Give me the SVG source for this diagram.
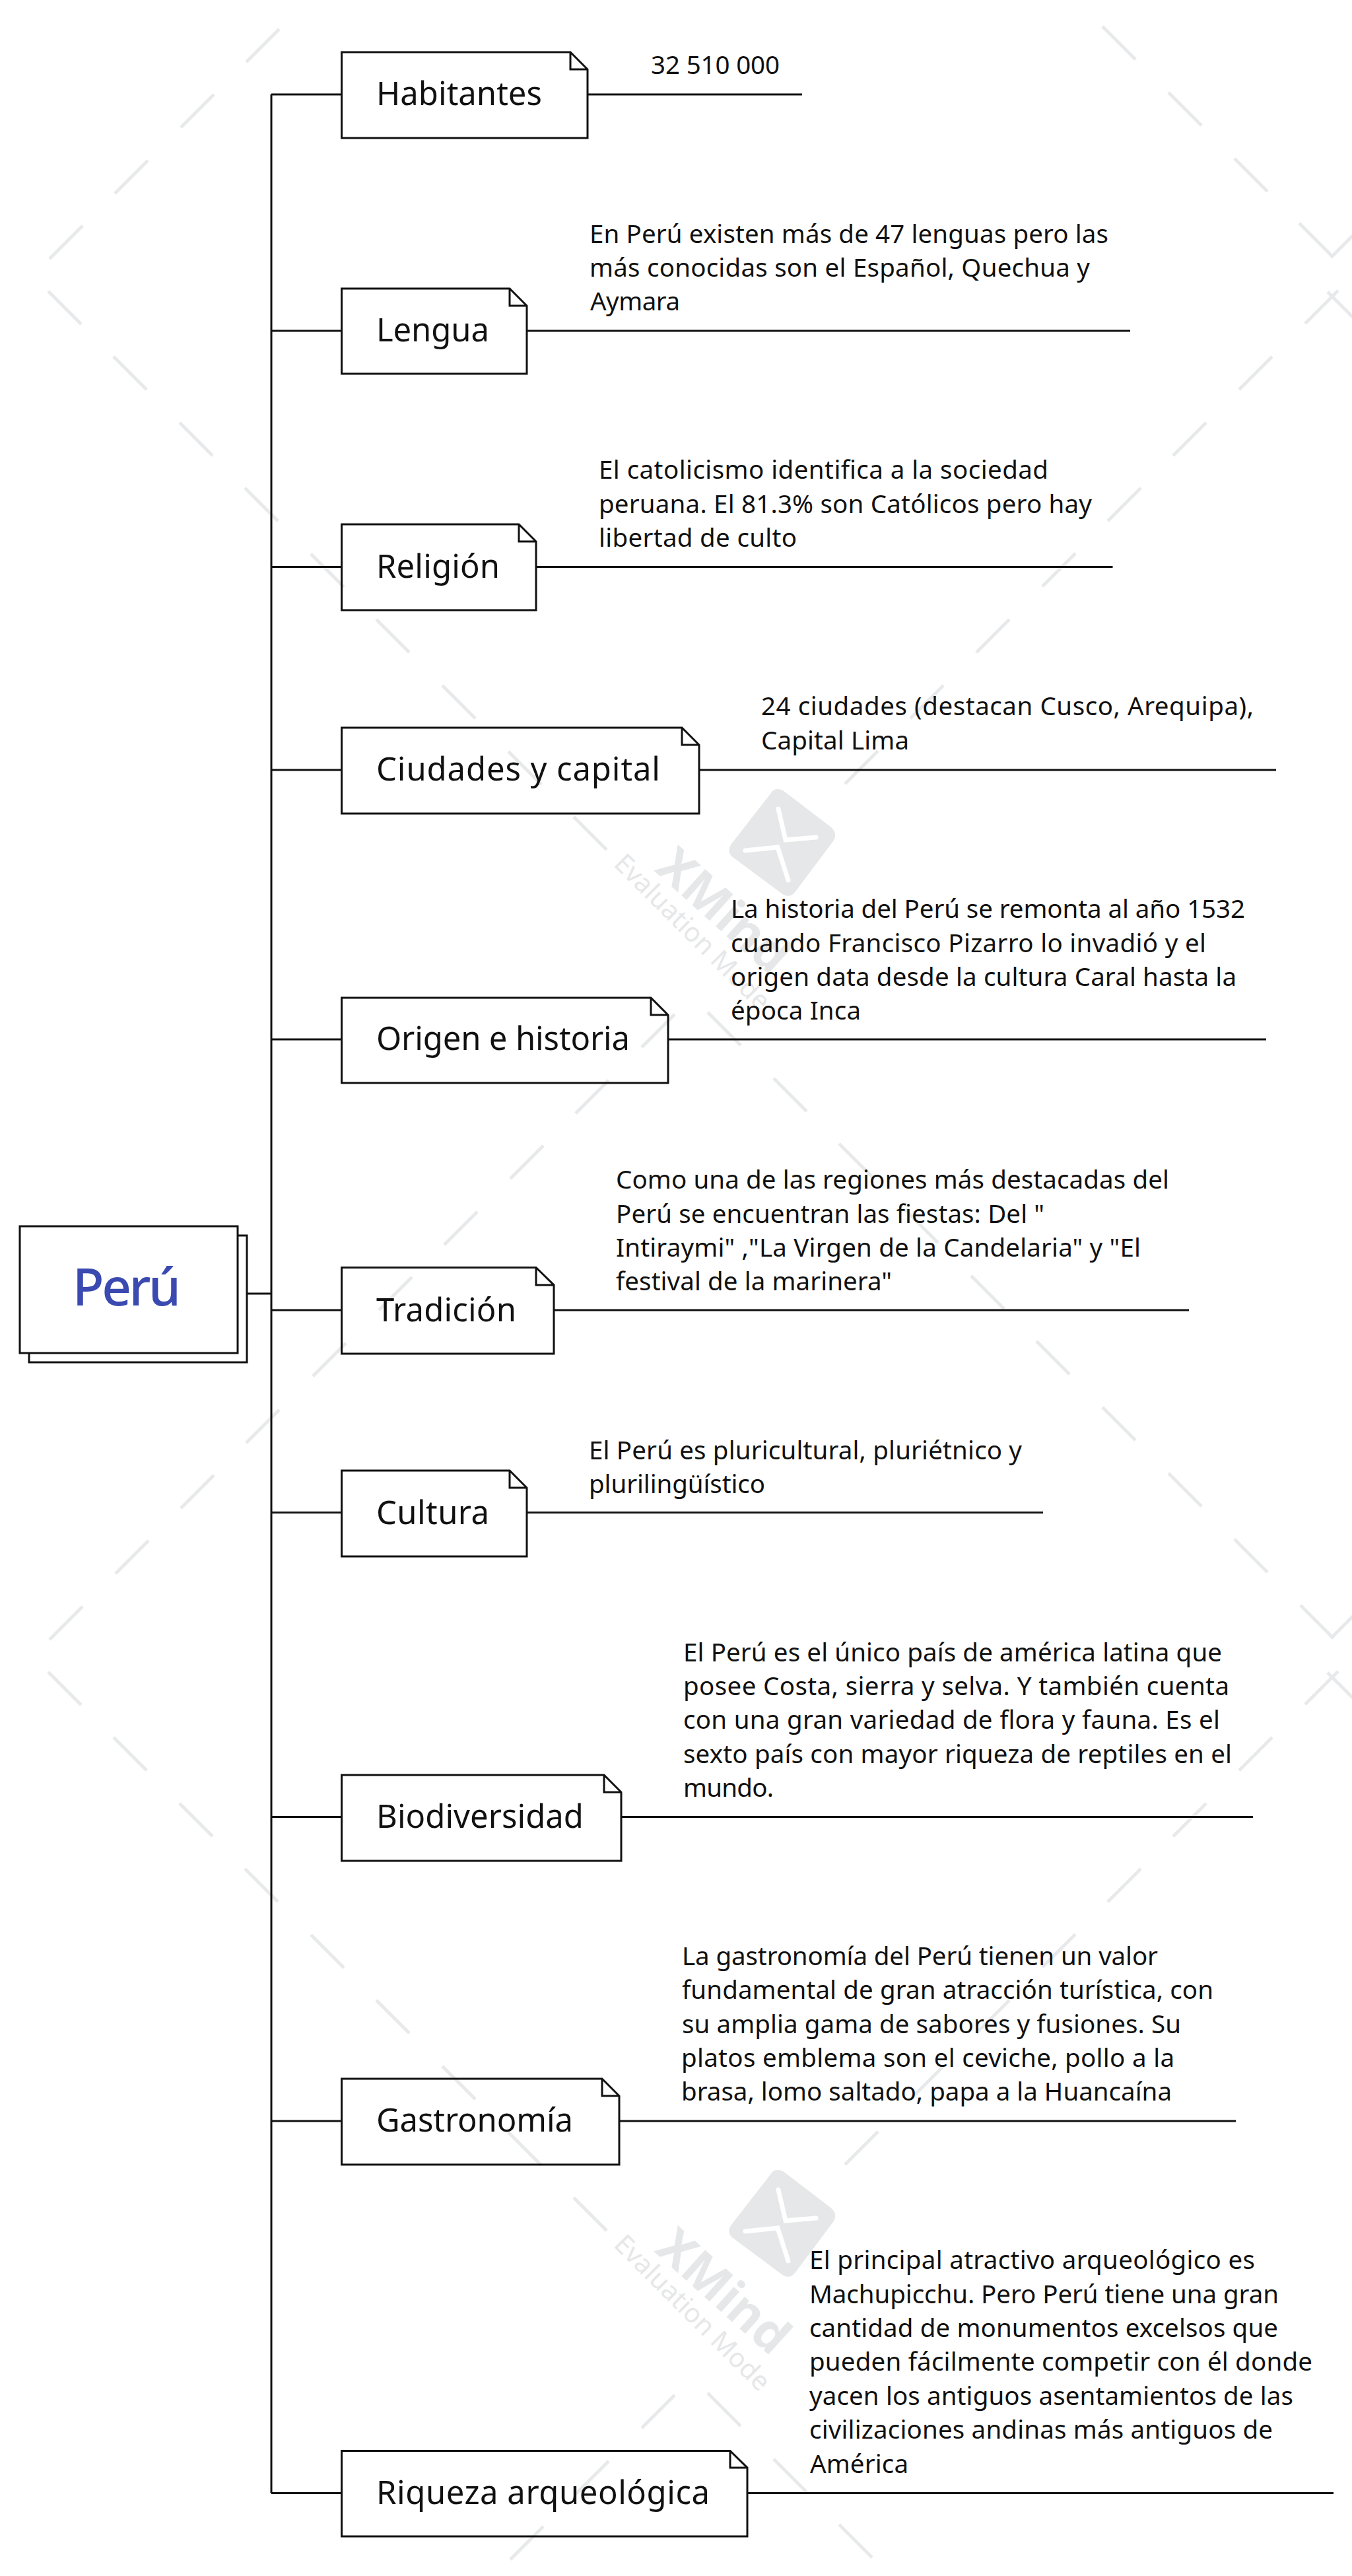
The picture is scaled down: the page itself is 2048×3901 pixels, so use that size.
<svg xmlns="http://www.w3.org/2000/svg" width="2048" height="3901" viewBox="0 0 2048 3901">
<style>
.wm{fill:none;stroke:#e8e9ea;stroke-width:5}
.wt{fill:#e6e7e8;font-family:"Noto Sans",sans-serif}
.n{fill:none;stroke:#111;stroke-width:3}
.c{fill:none;stroke:#111;stroke-width:3}
.t{font-family:"Noto Sans",sans-serif;font-size:49px;fill:#111}
.s{font-family:"Noto Sans",sans-serif;font-size:38.500px;fill:#111}
</style>
<defs>
<g id="logo">
<path d="M1171 1197Q1180 1192 1190 1200L1258 1252Q1270 1262 1262 1274L1205 1350Q1196 1362 1184 1353L1110 1298Q1100 1290 1108 1278Z" fill="#e6e7e8"/>
<path d="M1179 1225L1190 1272L1236 1268M1129 1288L1178 1283L1194 1333" fill="none" stroke="#fff" stroke-width="7" stroke-linecap="round"/>
<text class="wt" transform="translate(990 1318) rotate(42)" font-size="75" font-weight="700">XMind</text>
<text class="wt" transform="translate(928 1310) rotate(45)" font-size="40">Evaluation Mode</text>
</g>
</defs>
<rect width="2048" height="3901" fill="#fff"/>
<g id="watermark">
<path class="wm" d="M73 441l50 50M172 540l50 50M272 640l50 50M371 739l50 50M471 839l50 50M570 938l50 50M670 1038l50 50M770 1138l50 50M869 1237l50 50
M73 2532l50 50M172 2631l50 50M272 2731l50 50M371 2830l50 50M471 2930l50 50M570 3029l50 50M670 3129l50 50M770 3229l50 50M869 3328l50 50
M75 392l50 -50M174 293l50 -50M274 193l50 -50M373 94l50 -50
M75 2483l50 -50M175 2383l50 -50M274 2284l50 -50M373 2185l50 -50M474 2084l50 -50M574 1984l50 -50M673 1885l50 -50M773 1785l50 -50M872 1686l50 -50M972 1586l50 -50
M773 3876l50 -50M872 3777l50 -50M972 3677l50 -50
M1670 40l50 50M1770 140l50 50M1870 240l50 50M1968 338l50 50
M1072 1533l50 50M1172 1633l50 50M1271 1732l50 50M1371 1832l50 50M1471 1932l50 50M1570 2031l50 50M1670 2131l50 50M1770 2231l50 50M1870 2331l50 50M1970 2431l50 50
M1072 3624l50 50M1172 3724l50 50M1271 3823l50 50
M1280 1187l50 -50M1379 1088l50 -50M1479 988l50 -50M1579 888l50 -50M1678 789l50 -50M1777 690l50 -50M1877 590l50 -50M1977 490l50 -50
M1280 3278l50 -50M1379 3179l50 -50M1479 3079l50 -50M1579 2979l50 -50M1678 2880l50 -50M1777 2781l50 -50M1877 2681l50 -50M1977 2581l50 -50
M2016 390l50 -50M2011 442l50 50M2016 2481l50 -50M2011 2533l50 50"/>
<use href="#logo"/>
<use href="#logo" y="2091"/>
</g>
<g id="connectors">
<path class="c" d="M374 1959H411M411 143V3775.5"/>
<path class="c" d="M411 143H519M890 143H1215"/>
<path class="c" d="M411 501H519M799 501H1712"/>
<path class="c" d="M411 858.500H519M813 858.500H1685.500"/>
<path class="c" d="M411 1166H519M1059 1166H1933"/>
<path class="c" d="M411 1574H519M1012 1574H1918"/>
<path class="c" d="M411 1984H519M839 1984H1801"/>
<path class="c" d="M411 2290.500H519M799 2290.500H1580"/>
<path class="c" d="M411 2751.500H519M942 2751.500H1898"/>
<path class="c" d="M411 3212H519M939 3212H1872"/>
<path class="c" d="M411 3775.500H519M1132 3775.500H2020"/>
</g>
<g id="root">
<path class="n" d="M360 1871H374V2063H44V2049"/>
<rect class="n" x="30" y="1857" width="330" height="192" fill="#fff"/>
<text x="110" y="1977" font-family="Noto Sans,sans-serif" font-size="78" font-weight="500" fill="#3a4ab0" textLength="164">Perú</text>
</g>
<g id="habitantes">
<path class="n" d="M517.500 79H864L890 105V209H517.500ZM864 79V105H890"/>
<text class="t" x="570" y="159" textLength="251">Habitantes</text>
<text class="s" x="986" y="112" textLength="195">32 510 000</text>
</g>
<g id="lengua">
<path class="n" d="M517.500 437H772L798 463V566H517.500ZM772 437V463H798"/>
<text class="t" x="570" y="517" textLength="171">Lengua</text>
<text class="s" x="893" y="368" textLength="786">En Perú existen más de 47 lenguas pero las</text>
<text class="s" x="893" y="419" textLength="758">más conocidas son el Español, Quechua y</text>
<text class="s" x="894" y="470" textLength="136">Aymara</text>
</g>
<g id="religion">
<path class="n" d="M517.500 794H786L812 820V924H517.500ZM786 794V820H812"/>
<text class="t" x="570" y="875" textLength="187">Religión</text>
<text class="s" x="907" y="725" textLength="681">El catolicismo identifica a la sociedad</text>
<text class="s" x="907" y="777" textLength="747">peruana. El 81.3% son Católicos pero hay</text>
<text class="s" x="907" y="828" textLength="300">libertad de culto</text>
</g>
<g id="ciudades">
<path class="n" d="M517.500 1102H1033L1059 1128V1232H517.500ZM1033 1102V1128H1059"/>
<text class="t" x="570" y="1182" textLength="430">Ciudades y capital</text>
<text class="s" x="1153" y="1083" textLength="746">24 ciudades (destacan Cusco, Arequipa),</text>
<text class="s" x="1153" y="1135" textLength="224">Capital Lima</text>
</g>
<g id="origen">
<path class="n" d="M517.500 1511H986L1012 1537V1640H517.500ZM986 1511V1537H1012"/>
<text class="t" x="570" y="1590" textLength="384">Origen e historia</text>
<text class="s" x="1107" y="1390" textLength="779">La historia del Perú se remonta al año 1532</text>
<text class="s" x="1107" y="1442" textLength="720">cuando Francisco Pizarro lo invadió y el</text>
<text class="s" x="1107" y="1493" textLength="766">origen data desde la cultura Caral hasta la</text>
<text class="s" x="1107" y="1544" textLength="197">época Inca</text>
</g>
<g id="tradicion">
<path class="n" d="M517.500 1919.500H812L839 1946V2050H517.500ZM812 1919.500V1946H839"/>
<text class="t" x="570" y="2001" textLength="212">Tradición</text>
<text class="s" x="933" y="1800" textLength="838">Como una de las regiones más destacadas del</text>
<text class="s" x="933" y="1852" textLength="649">Perú se encuentran las fiestas: Del "</text>
<text class="s" x="933" y="1903" textLength="795">Intiraymi" ,"La Virgen de la Candelaria" y "El</text>
<text class="s" x="933" y="1954" textLength="418">festival de la marinera"</text>
</g>
<g id="cultura">
<path class="n" d="M517.500 2227H772L798 2253V2357H517.500ZM772 2227V2253H798"/>
<text class="t" x="570" y="2308" textLength="171">Cultura</text>
<text class="s" x="892" y="2210" textLength="656">El Perú es pluricultural, pluriétnico y</text>
<text class="s" x="892" y="2261" textLength="267">plurilingüístico</text>
</g>
<g id="biodiversidad">
<path class="n" d="M517.500 2688H915L941 2714V2818H517.500ZM915 2688V2714H941"/>
<text class="t" x="570" y="2768" textLength="314">Biodiversidad</text>
<text class="s" x="1035" y="2516" textLength="816">El Perú es el único país de américa latina que</text>
<text class="s" x="1035" y="2567" textLength="827">posee Costa, sierra y selva. Y también cuenta</text>
<text class="s" x="1035" y="2618" textLength="813">con una gran variedad de flora y fauna. Es el</text>
<text class="s" x="1035" y="2670" textLength="831">sexto país con mayor riqueza de reptiles en el</text>
<text class="s" x="1035" y="2721" textLength="137">mundo.</text>
</g>
<g id="gastronomia">
<path class="n" d="M517.500 3148H912L938 3174V3278H517.500ZM912 3148V3174H938"/>
<text class="t" x="570" y="3228" textLength="298">Gastronomía</text>
<text class="s" x="1033" y="2976" textLength="721">La gastronomía del Perú tienen un valor</text>
<text class="s" x="1033" y="3027" textLength="805">fundamental de gran atracción turística, con</text>
<text class="s" x="1033" y="3079" textLength="756">su amplia gama de sabores y fusiones. Su</text>
<text class="s" x="1032" y="3130" textLength="747">platos emblema son el ceviche, pollo a la</text>
<text class="s" x="1032" y="3181" textLength="743">brasa, lomo saltado, papa a la Huancaína</text>
</g>
<g id="riqueza">
<path class="n" d="M517.500 3711.500H1106L1132 3737V3841H517.500ZM1106 3711.500V3737H1132"/>
<text class="t" x="570" y="3792" textLength="505">Riqueza arqueológica</text>
<text class="s" x="1226" y="3436" textLength="675">El principal atractivo arqueológico es</text>
<text class="s" x="1226" y="3488" textLength="711">Machupicchu. Pero Perú tiene una gran</text>
<text class="s" x="1226" y="3539" textLength="710">cantidad de monumentos excelsos que</text>
<text class="s" x="1226" y="3590" textLength="762">pueden fácilmente competir con él donde</text>
<text class="s" x="1226" y="3642" textLength="733">yacen los antiguos asentamientos de las</text>
<text class="s" x="1226" y="3693" textLength="702">civilizaciones andinas más antiguos de</text>
<text class="s" x="1227" y="3745" textLength="149">América</text>
</g>
</svg>
